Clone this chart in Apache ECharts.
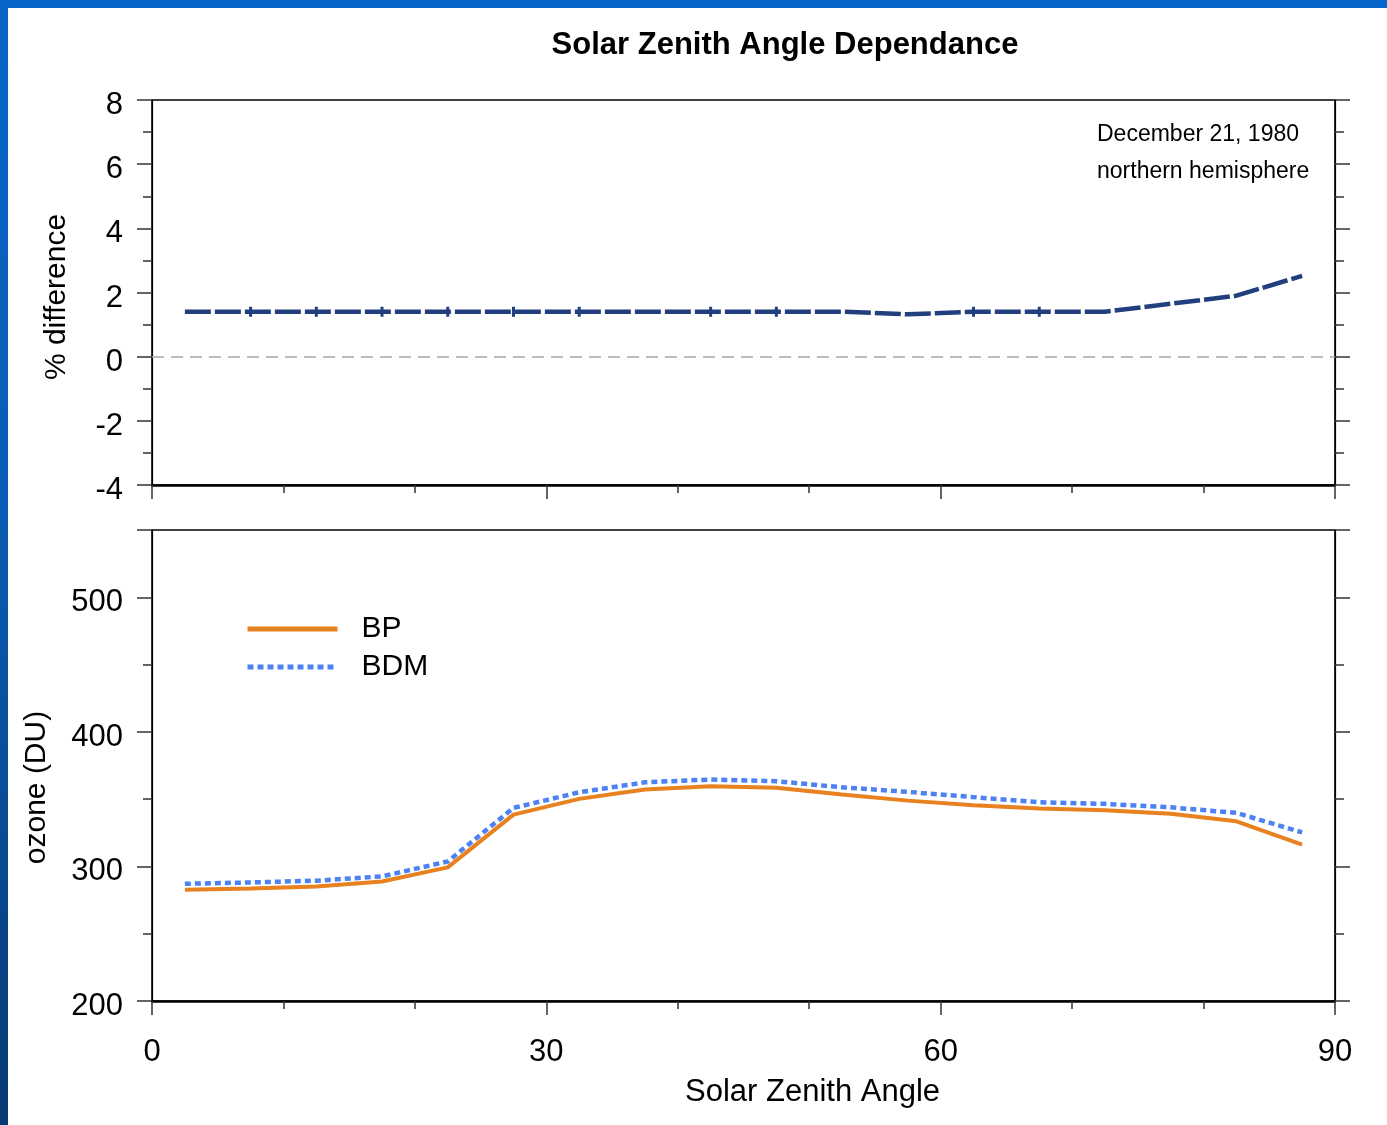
<!DOCTYPE html>
<html>
<head>
<meta charset="utf-8">
<script src="https://cdn.jsdelivr.net/npm/echarts@6/dist/echarts.min.js"></script>
<style>
  html, body { margin: 0; padding: 0; }
  #page { position: relative; width: 1387px; height: 1125px; background: #0766c9; overflow: hidden; }
  #edge { position: absolute; left: 0; top: 0; width: 8px; height: 1125px;
          background: linear-gradient(to bottom, #0766c9 0%, #0a5cb4 45%, #084a92 75%, #063a72 100%); }
  #sheet { position: absolute; left: 8px; top: 8px; right: 0; bottom: 0; background: #ffffff; }
  #chart { position: absolute; left: 0; top: 0; width: 1387px; height: 1125px; }
</style>
</head>
<body>
<div id="page">
  <div id="edge"></div>
  <div id="sheet"></div>
  <div id="chart"></div>
</div>
<script>
// Solar zenith angle bins (degrees)
const angles = [2.5, 7.5, 12.5, 17.5, 22.5, 27.5, 32.5, 37.5, 42.5, 47.5, 52.5, 57.5, 62.5, 67.5, 72.5, 77.5, 82.5, 87.5];
// Percent difference between the two retrievals
const pctDiff = [1.40, 1.40, 1.40, 1.40, 1.40, 1.40, 1.40, 1.40, 1.40, 1.40, 1.40, 1.32, 1.40, 1.40, 1.40, 1.65, 1.90, 2.52];
// Total ozone (DU)
const ozoneBP  = [282.6, 283.6, 285.1, 288.8, 299.3, 338.5, 350.2, 357.1, 359.6, 358.5, 353.4, 348.9, 345.4, 343.0, 341.7, 339.2, 333.5, 316.2];
const ozoneBDM = [287.1, 288.1, 289.4, 292.6, 303.7, 343.5, 355.1, 362.5, 364.6, 363.3, 358.8, 355.4, 351.5, 347.7, 346.5, 343.9, 339.8, 325.3];
// Axis tick labels
const xTicks = [0, 30, 60, 90];
const diffTicks = [-4, -2, 0, 2, 4, 6, 8];
const ozoneTicks = [200, 300, 400, 500];
// Bins plotted without a point marker on the difference curve
const unmarked = [0, 7, 10, 11, 14, 15, 16, 17];

const FONT = '"Liberation Sans", Arial, sans-serif';
const BLACK = '#000000';

const chart = echarts.init(document.getElementById('chart'), null, { renderer: 'canvas' });

const pairs = (ys) => angles.map((a, i) => [a, ys[i]]);

const diffData = angles.map((a, i) => {
  const item = { value: [a, pctDiff[i]] };
  if (unmarked.indexOf(i) >= 0) item.symbol = 'none';
  return item;
});

function xAxisDef(gridIndex, showLabels, name) {
  return {
    type: 'value', gridIndex, min: xTicks[0], max: xTicks[xTicks.length - 1], interval: xTicks[1] - xTicks[0],
    axisLine: { show: true, onZero: false, lineStyle: { color: BLACK, width: 2.5 } },
    axisTick: { show: true, inside: false, length: 14, lineStyle: { color: '#333', width: 1.5 } },
    minorTick: { show: true, splitNumber: 3, length: 8, lineStyle: { color: '#333', width: 1.5 } },
    splitLine: { show: false },
    axisLabel: { show: showLabels, margin: 36, color: BLACK, fontSize: 31, fontFamily: FONT },
    name: name || '', nameLocation: 'middle', nameGap: 76,
    nameTextStyle: { color: BLACK, fontSize: 31, fontFamily: FONT, padding: [0, 0, 0, 138] }
  };
}

function yAxisDef(gridIndex, ticks, position, showLabels, name, nameGap, nameShift) {
  return {
    type: 'value', gridIndex, position,
    min: ticks[0], max: gridIndex === 1 ? 550 : ticks[ticks.length - 1], interval: ticks[1] - ticks[0],
    axisLine: { show: true, onZero: false, lineStyle: { color: BLACK, width: 1.2 } },
    axisTick: { show: true, inside: false, length: 15, lineStyle: { color: '#333', width: 1.5 } },
    minorTick: { show: true, splitNumber: 2, length: 9, lineStyle: { color: '#333', width: 1.5 } },
    splitLine: { show: false },
    axisLabel: { show: showLabels, margin: 29, color: BLACK, fontSize: 31, fontFamily: FONT,
                 verticalAlign: 'top', lineHeight: 11, showMaxLabel: gridIndex !== 1 },
    name: name || '', nameLocation: 'middle', nameGap: nameGap || 0, nameRotate: 90,
    nameTextStyle: { color: BLACK, fontSize: 30, fontFamily: FONT, padding: [0, nameShift || 0, 0, 0] }
  };
}

const option = {
  backgroundColor: 'transparent',
  animation: false,
  textStyle: { fontFamily: FONT },
  title: {
    text: 'Solar Zenith Angle Dependance', left: 780, top: 25, textAlign: 'center',
    textStyle: { fontSize: 31, fontWeight: 'bold', color: BLACK, fontFamily: FONT }
  },
  grid: [
    { left: 152, top: 100, width: 1183, height: 385, show: true, borderColor: BLACK, borderWidth: 1.6, backgroundColor: 'transparent' },
    { left: 152, top: 530, width: 1183, height: 471, show: true, borderColor: BLACK, borderWidth: 1.6, backgroundColor: 'transparent' }
  ],
  xAxis: [
    xAxisDef(0, false),
    xAxisDef(1, true, 'Solar Zenith Angle')
  ],
  yAxis: [
    yAxisDef(0, diffTicks, 'left', true, '% difference', 80, 9),
    yAxisDef(0, diffTicks, 'right', false),
    yAxisDef(1, ozoneTicks, 'left', true, 'ozone (DU)', 100, 44),
    yAxisDef(1, ozoneTicks, 'right', false)
  ],
  legend: {
    show: true, orient: 'vertical', left: 240, top: 609,
    itemWidth: 90, itemHeight: 14, itemGap: 8,
    data: ['BP', 'BDM'],
    itemStyle: { opacity: 0 },
    lineStyle: { width: 5 },
    textStyle: { fontSize: 30, color: BLACK, fontFamily: FONT, padding: [0, 0, 0, 19] }
  },
  graphic: [
    { type: 'text', left: 1097, top: 123, style: { text: 'December 21, 1980', fill: BLACK, font: '23px ' + FONT } },
    { type: 'text', left: 1097, top: 160, style: { text: 'northern hemisphere', fill: BLACK, font: '23px ' + FONT } }
  ],
  series: [
    {
      name: '% difference', type: 'line', xAxisIndex: 0, yAxisIndex: 0,
      data: diffData,
      symbol: 'rect', symbolSize: [3, 10], showSymbol: true,
      itemStyle: { color: '#213f7e' },
      lineStyle: { color: '#213f7e', width: 4.5, type: [26, 4] },
      markLine: {
        silent: true, symbol: 'none', label: { show: false },
        lineStyle: { color: '#a8a8a8', width: 1.5, type: [12, 7] },
        data: [{ yAxis: 0 }]
      },
      z: 3
    },
    {
      name: 'BP', type: 'line', xAxisIndex: 1, yAxisIndex: 2,
      data: pairs(ozoneBP), symbol: 'none',
      itemStyle: { color: '#e8811f' },
      lineStyle: { color: '#e8811f', width: 4 },
      z: 3
    },
    {
      name: 'BDM', type: 'line', xAxisIndex: 1, yAxisIndex: 2,
      data: pairs(ozoneBDM), symbol: 'none',
      itemStyle: { color: '#4d82f3' },
      lineStyle: { color: '#4d82f3', width: 4.5, type: [6, 4] },
      z: 4
    }
  ]
};

chart.setOption(option);
</script>
</body>
</html>
